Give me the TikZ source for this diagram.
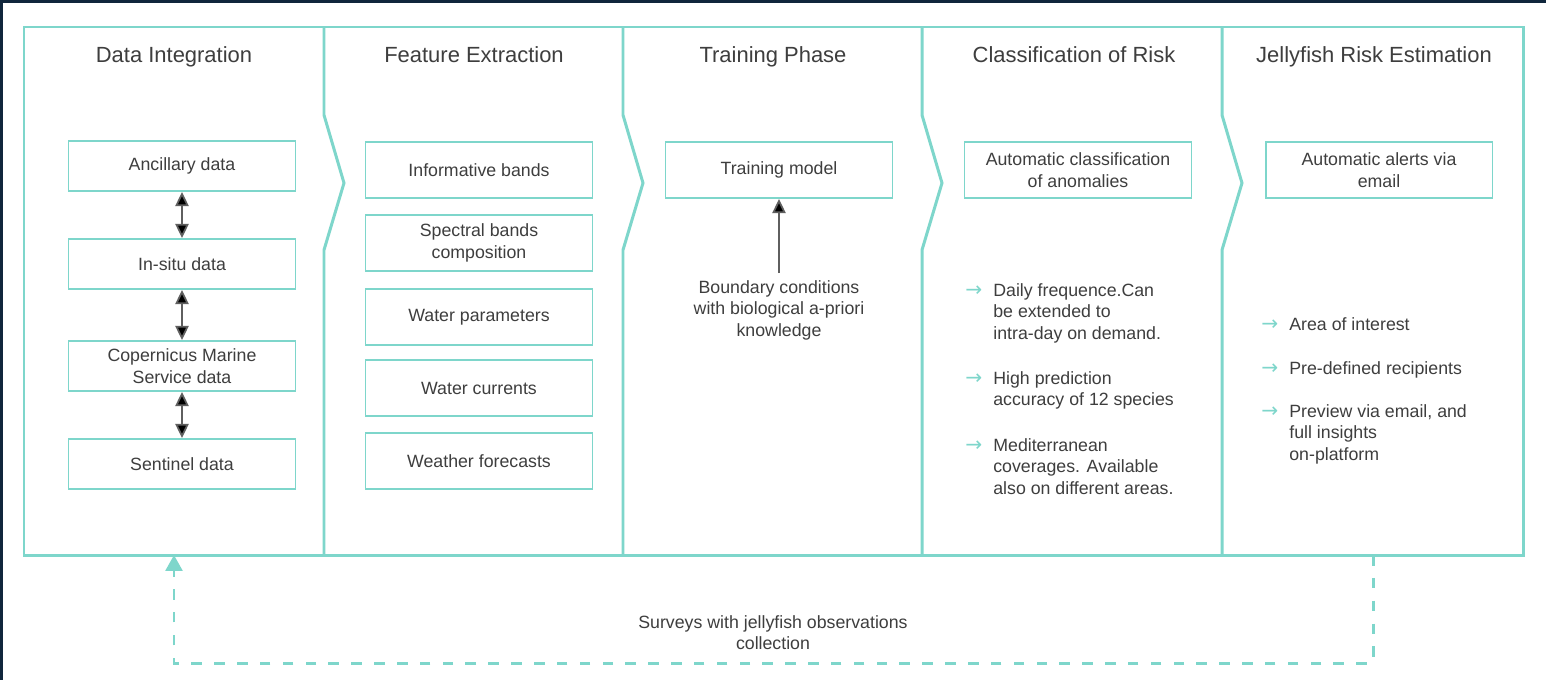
\documentclass[tikz,border=0pt]{standalone}
\usepackage{fontspec}
\setmainfont{Liberation Sans}
\newfontfamily\symfont{DejaVu Sans}
\usetikzlibrary{arrows.meta}
\definecolor{jellyTeal}{RGB}{126,214,203}
\definecolor{textGray}{RGB}{62,62,62}
\definecolor{arrowGray}{RGB}{95,95,95}
\definecolor{navyEdge}{RGB}{16,38,60}

\begin{document}
\begin{tikzpicture}[x=0.02cm, y=-0.02cm, every node/.style={text=textGray}]
    \tikzstyle{frameLine} = [draw=jellyTeal, line width=1.7pt, line join=miter]
    \tikzstyle{titleStyle} = [font=\fontsize{12.5}{15}\selectfont, anchor=base, inner sep=0]
    \tikzstyle{boxStyle} = [draw=jellyTeal, line width=1.1pt, minimum width=4.54cm,
        align=center, font=\fontsize{10.1}{12.4}\selectfont, inner sep=2pt]
    \tikzstyle{bodyText} = [font=\fontsize{10.1}{12.2}\selectfont, inner sep=0]
    \tikzstyle{bulletText} = [bodyText, align=left, anchor=north west]
    \tikzstyle{arrowMark} = [font=\symfont\fontsize{11.5}{12}\selectfont, text=jellyTeal,
        anchor=base west, inner sep=0]
    \tikzstyle{twoWay} = [draw=arrowGray, line width=1pt,
        {Triangle[length=8pt, width=7.5pt]}-{Triangle[length=8pt, width=7.5pt]}]
    \tikzstyle{oneWay} = [draw=arrowGray, line width=1pt, -{Triangle[length=8pt, width=7.5pt]}]
    \tikzstyle{feedback} = [draw=jellyTeal, line width=1.7pt, dash pattern=on 6pt off 7pt,
        -{Triangle[length=9pt, width=9.5pt]}]
    % page and edges
    \fill[white] (0,0) rectangle (1546,680);
    \fill[navyEdge] (0,0) rectangle (1546,3);
    \fill[navyEdge] (0,0) rectangle (3,680);
    \useasboundingbox (0,0) rectangle (1546,680);
    % panels
    \draw[frameLine] (24,27) rectangle (1523,555);
    \foreach \x in {324,623,922,1222}
        \draw[frameLine] (\x,27) -- (\x,115) -- (\x+20,183) -- (\x,250) -- (\x,555);
    \foreach \x/\name/\txt in {174/t1/Data Integration, 474/t2/Feature Extraction,
                               773/t3/Training Phase, 1074/t4/Classification of Risk,
                               1374/t5/Jellyfish Risk Estimation}
        \node[titleStyle] (\name) at (\x,62) {\txt};
    % data integration
    \foreach \y/\name/\txt in {166/di1/Ancillary data, 264/di2/In-situ data,
                               366/di3/{Copernicus Marine\\Service data}, 464/di4/Sentinel data}
        \node[boxStyle, minimum height=1cm] (\name) at (182,\y) {\txt};
    \foreach \from/\to in {di1/di2, di2/di3, di3/di4}
        \path[twoWay] (\from) edge (\to);
    % feature extraction
    \foreach \y/\name/\txt in {170/fe1/Informative bands, 243/fe2/{Spectral bands\\composition},
                               317/fe3/Water parameters, 388/fe4/Water currents,
                               461/fe5/Weather forecasts}
        \node[boxStyle, minimum height=1.12cm] (\name) at (479,\y) {\txt};
    % training phase
    \node[boxStyle, minimum height=1.12cm] (tp1) at (779,170) {Training model};
    \node[bodyText, align=center, anchor=north, inner sep=4pt] (tpNote) at (779,273)
        {Boundary conditions\\with biological a-priori\\knowledge};
    \path[oneWay] (tpNote) edge (tp1);
    % classification of risk
    \node[boxStyle, minimum height=1.12cm] (cr1) at (1078,170)
        {Automatic classification\\of anomalies};
    \foreach \x/\y/\name/\txt in {993/283/cr2/{Daily frequence.Can\\be extended to\\intra-day on demand.},
                                  993/371/cr3/{High prediction\\accuracy of 12 species},
                                  993/438/cr4/{Mediterranean\\coverages. Available\\also on different areas.},
                                  1289/317/jr2/{Area of interest},
                                  1289/361/jr3/{Pre-defined recipients},
                                  1289/404/jr4/{Preview via email, and\\full insights\\on-platform}}
    {
        \node[bulletText] (\name) at (\x,\y) {\txt};
        \node[arrowMark] (m\name) at (\x-28,\y+13) {→};
    }
    % jellyfish risk estimation
    \node[boxStyle, minimum height=1.12cm] (jr1) at (1379,170) {Automatic alerts via\\email};
    % feedback loop
    \coordinate (fbStart) at (1373,555);
    \coordinate (fbEnd) at (174,555);
    \draw[feedback] (fbStart) -- (1373,663) -| (fbEnd);
    \node[bodyText, align=center, anchor=north] (survey) at (773,615)
        {Surveys with jellyfish observations\\collection};
\end{tikzpicture}
\end{document}
